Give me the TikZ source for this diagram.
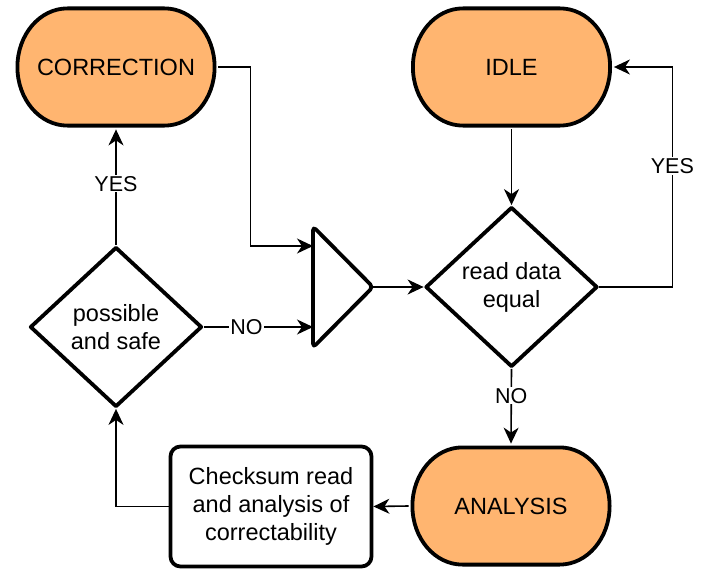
\documentclass[tikz,border=0pt]{standalone}
\usepackage{fontspec}
\setmainfont{Liberation Sans}
\usetikzlibrary{shapes.geometric,arrows.meta,calc}
\definecolor{termfill}{HTML}{FFB570}
\tikzset{
  border/.style={line width=3.8pt, line join=round},
  termnode/.style={rectangle, minimum width=201pt, minimum height=121pt, inner sep=0pt, outer sep=1.9pt,
    font=\fontsize{23.5}{27}\selectfont},
  boxnode/.style={border, draw, fill=white, rounded corners=10pt, rectangle, minimum width=201pt, minimum height=120pt,
    inner sep=0pt, align=center, font=\fontsize{23.5}{28}\selectfont},
  decnode/.style={border, draw, fill=white, diamond, minimum width=172pt, minimum height=160pt, inner sep=0pt,
    align=center, font=\fontsize{23.5}{28}\selectfont},
  termline/.style={border, draw, fill=termfill},
  conn/.style={line width=1.6pt, -{Stealth[length=16pt,width=15pt,inset=5pt]}},
  lbl/.style={fill=white, inner sep=1pt, font=\fontsize{21.5}{24}\selectfont},
}
\newcommand\termshape[2]{%
  \path[termline, shift={(#1,#2)}] (-48.6,-58.6) -- (48.6,-58.6)
    .. controls (76.2,-58.6) and (98.6,-32.4) .. (98.6,0)
    .. controls (98.6,32.4) and (76.2,58.6) .. (48.6,58.6)
    -- (-48.6,58.6)
    .. controls (-76.2,58.6) and (-98.6,32.4) .. (-98.6,0)
    .. controls (-98.6,-32.4) and (-76.2,-58.6) .. (-48.6,-58.6) -- cycle;}
\begin{document}
\begin{tikzpicture}[x=1pt,y=-1pt]
\useasboundingbox (0,0) rectangle (707,578);
% terminators
\termshape{116}{67}
\termshape{511.5}{67}
\termshape{511}{506}
\node[termnode] (corr) at (116,67) {CORRECTION};
\node[termnode] (idle) at (511.5,67) {IDLE};
\node[termnode] (ana) at (511,506) {ANALYSIS};
% process box
\node[boxnode] (check) at (271,506.5) {Checksum read\\and analysis of\\correctability};
% decisions
\node[decnode] (poss) at (116,327) {possible\\and safe};
\node[decnode] (read) at (511.5,287) {read data\\equal};
% merge triangle
\node[rectangle, minimum width=60pt, minimum height=121pt, inner sep=0pt, outer sep=0pt] (merge) at (343,287) {};
\draw[border, rounded corners=4pt] (merge.north west) -- (merge.east) -- (merge.south west) -- cycle;
% connectors
\draw[conn] (corr.east) -- ++(32,0) |- ($(merge.west)+(0,-41)$);
\draw[conn] (poss.east) -- node[lbl, pos=0.39] {NO} (poss.east -| merge.west);
\draw[conn] (poss.north) -- node[lbl, pos=0.53] {YES} (corr.south);
\draw[conn] (check.west) -| (poss.south);
\draw[conn] (ana.west) -- (check.east);
\draw[conn] (read.south) -- node[lbl, pos=0.36] {NO} (ana.north);
\draw[conn] (read.east) -- ++(73,0) -- node[lbl, pos=0.55] {YES} ++(0,-220) -- (idle.east);
\draw[conn] (idle.south) -- (read.north);
\draw[conn] (merge.east) -- (read.west);
\end{tikzpicture}
\end{document}
